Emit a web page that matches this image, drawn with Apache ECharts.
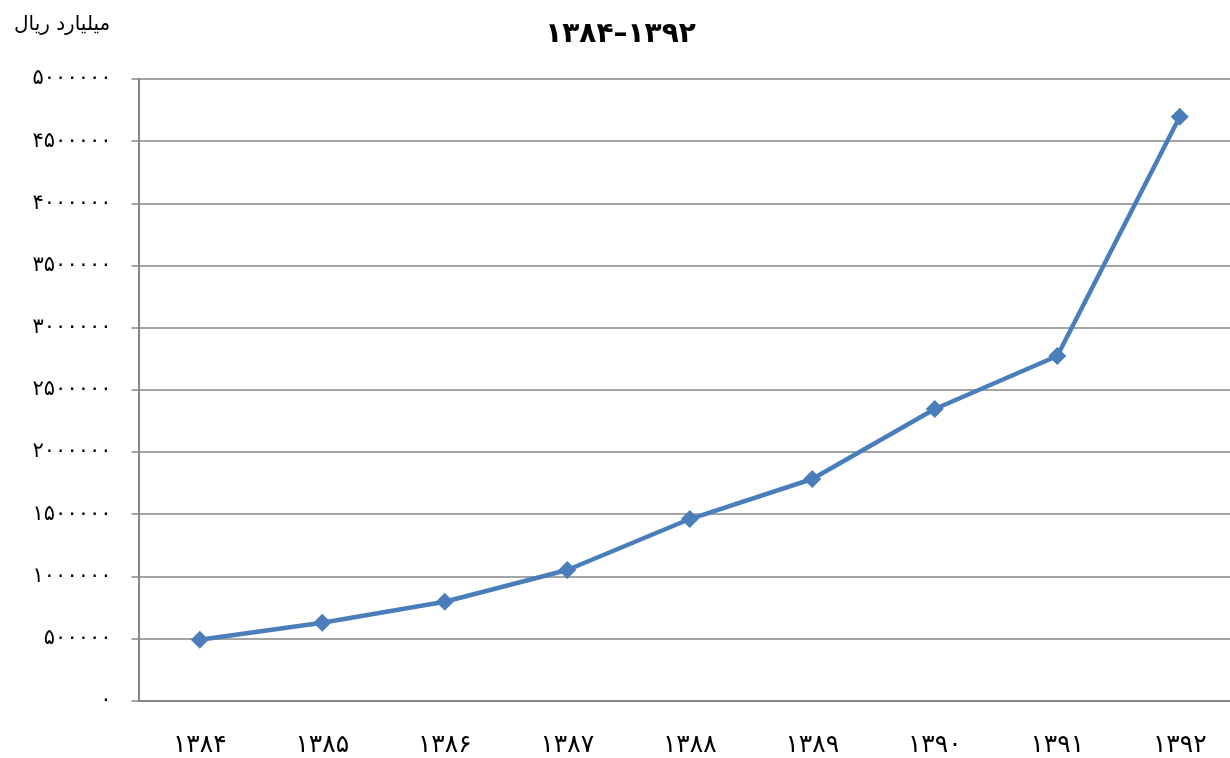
<!DOCTYPE html>
<html>
<head>
<meta charset="utf-8">
<script src="https://cdn.jsdelivr.net/npm/echarts@6/dist/echarts.min.js"></script>
<style>html,body{margin:0;padding:0;background:#fff;overflow:hidden;width:1230px;height:758px;}#c{width:1241px;height:758px;}</style>
</head>
<body>
<div id="c"></div>
<script>
var categories = ['۱۳۸۴','۱۳۸۵','۱۳۸۶','۱۳۸۷','۱۳۸۸','۱۳۸۹','۱۳۹۰','۱۳۹۱','۱۳۹۲'];
var values = [490000, 627000, 796000, 1051000, 1461000, 1783000, 2346000, 2772000, 4697000];
var titleText = '۱۳۸۴–۱۳۹۲';
var unitText = 'میلیارد ریال';
var yMin = 0, yMax = 5000000, yInterval = 500000;

var faDigits = '۰۱۲۳۴۵۶۷۸۹';
function toFa(n){ return String(n).replace(/[0-9]/g, function(d){ return faDigits[+d]; }); }

var chart = echarts.init(document.getElementById('c'));
chart.setOption({
  animation: false,
  backgroundColor: '#ffffff',
  textStyle: { fontFamily: 'DejaVu Sans' },
  title: [{
    text: titleText, left: 'center', top: 16,
    textStyle: { fontSize: 28, fontWeight: 'bold', color: '#000', fontFamily: 'DejaVu Sans' }
  }, {
    text: unitText, left: 9, top: 10,
    textStyle: { fontSize: 20, fontWeight: 'normal', color: '#000', fontFamily: 'DejaVu Sans' }
  }],
  grid: { left: 138.5, top: 79, right: 0, bottom: 57.3, containLabel: false },
  xAxis: {
    type: 'category', data: categories, boundaryGap: true,
    axisLine: { lineStyle: { color: '#868686', width: 2 } },
    axisTick: { show: false },
    axisLabel: { fontSize: 25, color: '#000', margin: 32, fontFamily: 'DejaVu Sans' }
  },
  yAxis: {
    type: 'value', min: yMin, max: yMax, interval: yInterval,
    axisLine: { show: true, lineStyle: { color: '#868686', width: 2 } },
    axisTick: { show: true, length: 7, lineStyle: { color: '#868686', width: 1.5 } },
    splitLine: { lineStyle: { color: '#868686', width: 1.5 } },
    axisLabel: { fontSize: 21, color: '#000', margin: 27, formatter: function(v){ return toFa(v); }, fontFamily: 'DejaVu Sans' }
  },
  series: [{
    type: 'line', data: values,
    symbol: 'diamond', symbolSize: 18,
    lineStyle: { color: '#4a7ebb', width: 4.5 },
    itemStyle: { color: '#4a7ebb' }
  }]
});
</script>
</body>
</html>
